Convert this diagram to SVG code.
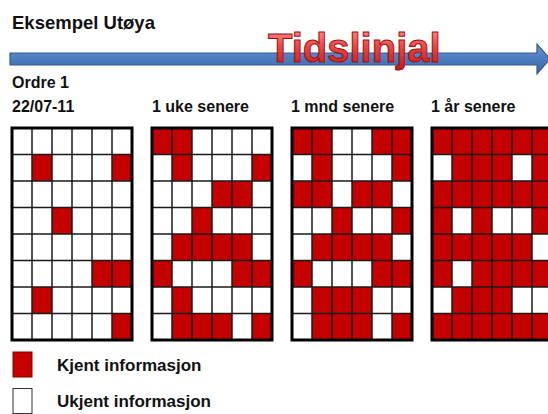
<svg xmlns="http://www.w3.org/2000/svg" xmlns:xlink="http://www.w3.org/1999/xlink" width="548" height="414" viewBox="0 0 548 414">
<style>
.t{font-family:"Liberation Sans",Arial,sans-serif;font-weight:bold;fill:#111}
.r{fill:#c40000}
.w{fill:#fff}
.gl{stroke:#1a1a1a;stroke-width:1.5;fill:none}
.gb{stroke:#000;stroke-width:3;fill:none}
</style>
<defs>
<linearGradient id="bar" x1="0" y1="0" x2="0" y2="1">
<stop offset="0" stop-color="#6f9bd6"/>
<stop offset="0.5" stop-color="#4a7cc0"/>
<stop offset="1" stop-color="#3b68a8"/>
</linearGradient>
<linearGradient id="tl" x1="0" y1="0" x2="0" y2="1">
<stop offset="0" stop-color="#ff9a9a"/>
<stop offset="0.45" stop-color="#e84a4a"/>
<stop offset="1" stop-color="#c01818"/>
</linearGradient>
<g id="lines">
<path class="gl" d="M20 0V212M40 0V212M60 0V212M80 0V212M100 0V212M0 26.5H120M0 53H120M0 79.5H120M0 106H120M0 132.5H120M0 159H120M0 185.5H120"/>
<rect class="gb" x="0" y="0" width="120" height="212"/>
</g>
</defs>
<rect width="548" height="414" fill="#fff"/>
<text class="t" x="12" y="29" font-size="18.5">Eksempel Utøya</text>
<g id="timeline">
<path d="M10 53H537V44L550 59L537 74V65H10Z" fill="url(#bar)" stroke="#34598c" stroke-width="1.2"/>
<text x="268" y="62" font-family="'Liberation Sans',Arial,sans-serif" font-weight="bold" font-size="40" fill="url(#tl)" stroke="#a01010" stroke-width="1">Tidslinjal</text>
</g>
<text class="t" x="12" y="88" font-size="16">Ordre 1</text>
<text class="t" x="12" y="112" font-size="16">22/07-11</text>
<text class="t" x="152" y="112" font-size="16">1 uke senere</text>
<text class="t" x="291" y="112" font-size="16">1 mnd senere</text>
<text class="t" x="431" y="112" font-size="16">1 år senere</text>
<g id="grid1" transform="translate(12 128)">
<rect class="w" width="120" height="212"/>
<rect class="r" x="20" y="26.5" width="20" height="26.5"/>
<rect class="r" x="100" y="26.5" width="20" height="26.5"/>
<rect class="r" x="40" y="79.5" width="20" height="26.5"/>
<rect class="r" x="80" y="132.5" width="40" height="26.5"/>
<rect class="r" x="20" y="159" width="20" height="26.5"/>
<rect class="r" x="100" y="185.5" width="20" height="26.5"/>
<use xlink:href="#lines"/>
</g>
<g id="grid2" transform="translate(152 128)">
<rect class="w" width="120" height="212"/>
<rect class="r" x="0" y="0" width="40" height="26.5"/>
<rect class="r" x="20" y="26.5" width="20" height="26.5"/>
<rect class="r" x="100" y="26.5" width="20" height="26.5"/>
<rect class="r" x="60" y="53" width="40" height="26.5"/>
<rect class="r" x="40" y="79.5" width="20" height="26.5"/>
<rect class="r" x="20" y="106" width="80" height="26.5"/>
<rect class="r" x="0" y="132.5" width="20" height="26.5"/>
<rect class="r" x="80" y="132.5" width="40" height="26.5"/>
<rect class="r" x="20" y="159" width="20" height="26.5"/>
<rect class="r" x="20" y="185.5" width="60" height="26.5"/>
<rect class="r" x="100" y="185.5" width="20" height="26.5"/>
<use xlink:href="#lines"/>
</g>
<g id="grid3" transform="translate(292 128)">
<rect class="w" width="120" height="212"/>
<rect class="r" x="0" y="0" width="40" height="26.5"/>
<rect class="r" x="80" y="0" width="40" height="26.5"/>
<rect class="r" x="20" y="26.5" width="20" height="26.5"/>
<rect class="r" x="100" y="26.5" width="20" height="26.5"/>
<rect class="r" x="0" y="53" width="40" height="26.5"/>
<rect class="r" x="60" y="53" width="40" height="26.5"/>
<rect class="r" x="40" y="79.5" width="20" height="26.5"/>
<rect class="r" x="100" y="79.5" width="20" height="26.5"/>
<rect class="r" x="20" y="106" width="80" height="26.5"/>
<rect class="r" x="0" y="132.5" width="20" height="26.5"/>
<rect class="r" x="80" y="132.5" width="40" height="26.5"/>
<rect class="r" x="20" y="159" width="60" height="26.5"/>
<rect class="r" x="20" y="185.5" width="60" height="26.5"/>
<rect class="r" x="100" y="185.5" width="20" height="26.5"/>
<use xlink:href="#lines"/>
</g>
<g id="grid4" transform="translate(432 128)">
<rect class="r" width="120" height="212"/>
<rect class="w" x="0" y="26.5" width="20" height="26.5"/>
<rect class="w" x="80" y="26.5" width="20" height="26.5"/>
<rect class="w" x="20" y="79.5" width="20" height="26.5"/>
<rect class="w" x="60" y="79.5" width="40" height="26.5"/>
<rect class="w" x="100" y="106" width="20" height="26.5"/>
<rect class="w" x="20" y="132.5" width="20" height="26.5"/>
<rect class="w" x="0" y="159" width="20" height="26.5"/>
<rect class="w" x="80" y="159" width="40" height="26.5"/>
<use xlink:href="#lines"/>
</g>
<g id="legend-known">
<rect x="13" y="352" width="19" height="25" fill="#c40000" stroke="#8a0000" stroke-width="1"/>
<text class="t" x="57" y="371" font-size="17">Kjent informasjon</text>
</g>
<g id="legend-unknown">
<rect x="13" y="388.5" width="19" height="25" fill="#fff" stroke="#333" stroke-width="1"/>
<text class="t" x="57" y="407" font-size="17">Ukjent informasjon</text>
</g>
</svg>
